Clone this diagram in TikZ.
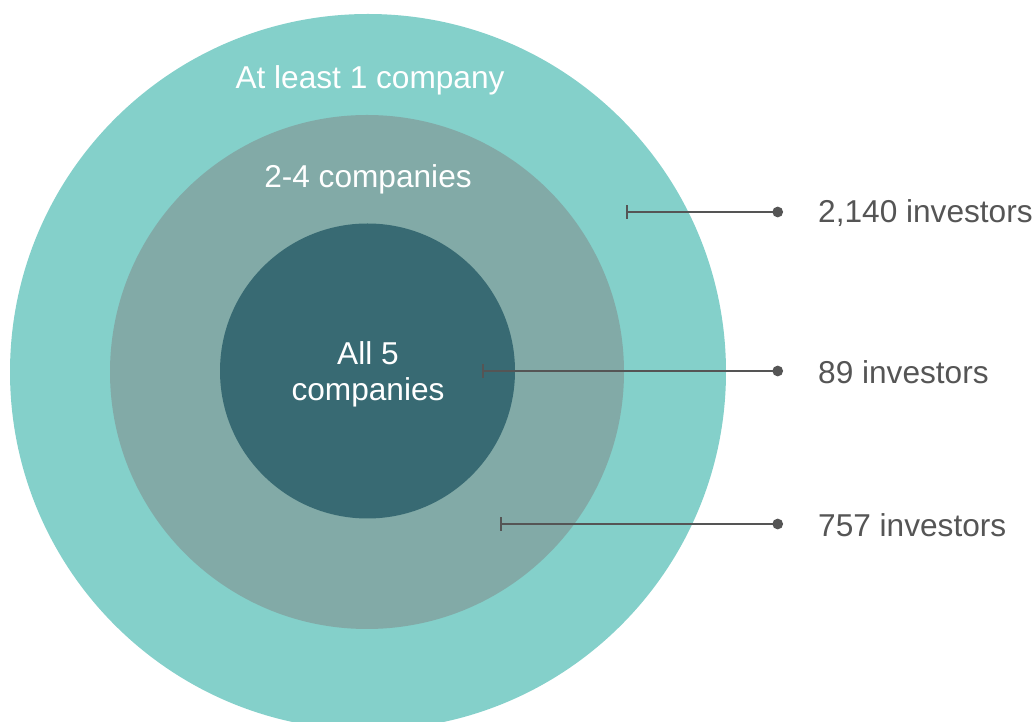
\documentclass[tikz,border=0pt]{standalone}
\usepackage{fontspec}
\setmainfont{Liberation Sans}
\usepackage{tikz}
\usetikzlibrary{arrows.meta,positioning}

\definecolor{outerteal}{HTML}{84D0CA}
\definecolor{midteal}{HTML}{82AAA7}
\definecolor{innerteal}{HTML}{386A73}
\definecolor{leadgray}{HTML}{555555}

\tikzset{
    ringlabel/.style = {text = white, font = \fontsize{18}{20.5}\selectfont, align = center},
    countlabel/.style = {text = leadgray, font = \fontsize{18}{20.5}\selectfont, anchor = west},
    leader/.style = {draw = leadgray, line width = 1.4pt,
        {Bar[width=7.5pt,line width=1.4pt]}-{Circle[length=6pt]}}
}

\begin{document}
\begin{tikzpicture}[x = 0.02cm, y = -0.02cm]
    \clip (0,0) rectangle (1036,722);
    % rings
    \fill[outerteal] (368,372) circle (358);
    \fill[midteal] (367,372) circle (257);
    \fill[innerteal] (367.5,371) circle (147.5);

    \node[ringlabel] (atleast) at (370,80) {At least 1 company};
    \node[ringlabel] (twofour) at (368,179) {2-4 companies};
    \node[ringlabel] (allfive) at (368,374) {All 5\\companies};

    % leaders
    \coordinate (t1) at (626,212);
    \coordinate (d1) at (783,212);
    \coordinate (t2) at (482,371);
    \coordinate (d2) at (783,371);
    \coordinate (t3) at (500,524);
    \coordinate (d3) at (783,524);
    \draw[leader] (t1) -- (d1);
    \draw[leader] (t2) -- (d2);
    \draw[leader] (t3) -- (d3);

    \node[countlabel] (c1) at (812,213) {2,140 investors};
    \node[countlabel] (c2) at (812,372) {89 investors};
    \node[countlabel] (c3) at (812,525) {757 investors};
\end{tikzpicture}
\end{document}
